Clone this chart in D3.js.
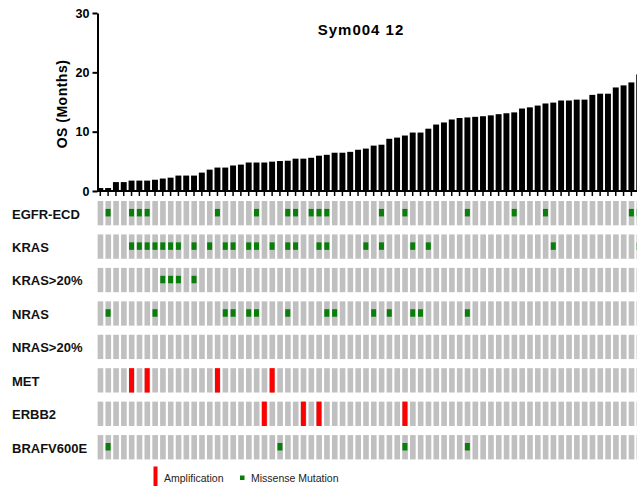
<!DOCTYPE html>
<html>
<head>
<meta charset="utf-8">
<script src="https://cdn.jsdelivr.net/npm/d3@7"></script>
<style>
  html, body { margin: 0; padding: 0; background: #fff; overflow: hidden; }
  svg { display: block; }
  text { font-family: "Liberation Sans", Arial, sans-serif; }
</style>
</head>
<body>
<svg id="chart" width="637" height="487"></svg>
<script>
// ---------------- DATA ----------------
const chartTitle = "Sym004 12";
const yAxisLabel = "OS (Months)";
const yTicks = [0, 10, 20, 30];

// overall survival per patient (months), sorted ascending
const osMonths = [0.5, 0.5, 1.5, 1.5, 1.75, 1.75, 1.75, 1.9, 2.1, 2.25,
  2.6, 2.6, 2.6, 3.1, 3.6, 3.95, 3.95, 4.3, 4.45, 4.8,
  4.8, 4.8, 4.95, 5.05, 5.1, 5.45, 5.45, 5.6, 5.95, 6.1,
  6.45, 6.45, 6.6, 6.95, 7.15, 7.65, 7.8, 8.8, 9.0, 9.35,
  9.85, 9.85, 10.5, 11.2, 11.55, 12.05, 12.3, 12.4, 12.5, 12.6,
  12.75, 12.95, 13.1, 13.25, 13.9, 14.1, 14.4, 14.75, 14.9, 15.25,
  15.25, 15.4, 15.4, 16.2, 16.4, 16.4, 17.45, 17.8, 18.3, 19.65];

const patients = osMonths.map((d, i) => "Pt" + (i + 1));

const geneRows = ["EGFR-ECD", "KRAS", "KRAS>20%", "NRAS", "NRAS>20%", "MET", "ERBB2", "BRAFV600E"];

// patient positions (index in sorted order) carrying each alteration
const egfrEcdMissense = [1, 4, 5, 6, 15, 20, 24, 25, 27, 28, 29, 36, 39, 47, 53, 57, 68, 69];
const krasMissense = [4, 5, 6, 7, 8, 9, 10, 12, 14, 16, 17, 19, 20, 22, 24, 25, 28, 29, 34, 36, 40, 42, 58, 69];
const krasOver20Missense = [8, 9, 10, 12];
const nrasMissense = [1, 7, 16, 17, 19, 20, 24, 29, 30, 35, 37, 40, 41, 47];
const nrasOver20Missense = [];
const metAmplification = [4, 6, 15, 22];
const erbb2Amplification = [21, 26, 28, 39];
const brafV600EMissense = [1, 23, 39, 47];

const legendItems = ["Amplification", "Missense Mutation"];

// ---------------- BUILD ----------------
const alterations = [
  { gene: "EGFR-ECD", type: "miss", idx: egfrEcdMissense },
  { gene: "KRAS", type: "miss", idx: krasMissense },
  { gene: "KRAS>20%", type: "miss", idx: krasOver20Missense },
  { gene: "NRAS", type: "miss", idx: nrasMissense },
  { gene: "NRAS>20%", type: "miss", idx: nrasOver20Missense },
  { gene: "MET", type: "amp", idx: metAmplification },
  { gene: "ERBB2", type: "amp", idx: erbb2Amplification },
  { gene: "BRAFV600E", type: "miss", idx: brafV600EMissense }
];
const events = [];
alterations.forEach(a => a.idx.forEach(i => events.push({ gene: a.gene, type: a.type, patient: patients[i] })));

const svg = d3.select("#chart");
const N = patients.length;
const step = 7.81;
const x = d3.scaleBand()
  .domain(patients)
  .range([96.4, 96.4 + step * N])
  .paddingInner(0.24)
  .paddingOuter(0.12);

const y = d3.scaleLinear().domain([0, 30]).range([191, 13]);

const rowScale = d3.scaleBand()
  .domain(geneRows)
  .range([201, 201 + 32.3 * geneRows.length])
  .paddingInner(1 - 23.5 / 32.3)
  .paddingOuter(0);

const black = "#000";
const green = "#0a7d0a";
const red = "#ff0000";
const grey = "#c0c0c0";

// bars
svg.append("g").selectAll("rect")
  .data(osMonths)
  .join("rect")
  .attr("x", (d, i) => x(patients[i]))
  .attr("width", x.bandwidth())
  .attr("y", d => y(d))
  .attr("height", d => y(0) - y(d))
  .attr("fill", black);

// x baseline with per-bar ticks
const xAxis = d3.axisBottom(x).tickSize(5).tickFormat("").tickSizeOuter(0);
const gx = svg.append("g").attr("transform", `translate(0,${y(0)})`).call(xAxis);
gx.select(".domain").attr("stroke", black).attr("stroke-width", 2)
  .attr("d", `M97,0H${96.4 + step * N + 10}`);
gx.selectAll(".tick line").attr("stroke", black).attr("stroke-width", 1.5);

// y axis
const yAxis = d3.axisLeft(y).tickValues(yTicks).tickSize(5).tickSizeOuter(0).tickPadding(3);
const gy = svg.append("g").attr("transform", "translate(97.5,0)").call(yAxis);
gy.select(".domain").attr("stroke", black).attr("stroke-width", 2);
gy.selectAll(".tick line").attr("stroke", black).attr("stroke-width", 2);
gy.selectAll(".tick text")
  .attr("font-family", "'Liberation Sans', Arial, sans-serif")
  .attr("font-size", 12.5)
  .attr("font-weight", "bold")
  .attr("fill", black);

// y label
svg.append("text")
  .attr("transform", `translate(67,${(y(0) + y(30)) / 2 + 2}) rotate(-90)`)
  .attr("text-anchor", "middle")
  .attr("font-size", 14)
  .attr("font-weight", "bold")
  .attr("letter-spacing", 0.5)
  .attr("fill", black)
  .text(yAxisLabel);

// title
svg.append("text")
  .attr("x", 361)
  .attr("y", 35)
  .attr("text-anchor", "middle")
  .attr("font-size", 15)
  .attr("font-weight", "bold")
  .attr("letter-spacing", 1)
  .attr("fill", black)
  .text(chartTitle);

// grid of grey cells
const cells = [];
geneRows.forEach(g => patients.forEach(p => cells.push({ g, p })));
svg.append("g").selectAll("rect")
  .data(cells)
  .join("rect")
  .attr("x", d => x(d.p) + 0.3)
  .attr("width", x.bandwidth() - 0.3)
  .attr("y", d => rowScale(d.g))
  .attr("height", rowScale.bandwidth())
  .attr("fill", grey);

// alterations
const gw = 5, gh = 7.5;
svg.append("g").selectAll("rect")
  .data(events)
  .join("rect")
  .attr("x", d => x(d.patient) + (x.bandwidth() - gw) / 2)
  .attr("width", gw)
  .attr("y", d => d.type === "amp" ? rowScale(d.gene) : rowScale(d.gene) + (rowScale.bandwidth() - gh) / 2 - 0.5)
  .attr("height", d => d.type === "amp" ? rowScale.bandwidth() : gh)
  .attr("fill", d => d.type === "amp" ? red : green);

// row labels
svg.append("g").selectAll("text")
  .data(geneRows)
  .join("text")
  .attr("x", 12)
  .attr("y", d => rowScale(d) + rowScale.bandwidth() / 2 + 2)
  .attr("dominant-baseline", "middle")
  .attr("font-size", 13)
  .attr("font-weight", "bold")
  .attr("fill", "#111")
  .text(d => d);

// legend
const lg = svg.append("g");
lg.append("rect").attr("x", 153.5).attr("y", 466.5).attr("width", 4).attr("height", 19.5).attr("fill", red);
lg.append("text").attr("x", 164).attr("y", 479).attr("dominant-baseline", "middle")
  .attr("font-size", 10.5).attr("fill", "#222").text(legendItems[0]);
lg.append("rect").attr("x", 240).attr("y", 475.5).attr("width", 4.5).attr("height", 4.5).attr("fill", green);
lg.append("text").attr("x", 251).attr("y", 479).attr("dominant-baseline", "middle")
  .attr("font-size", 10.5).attr("fill", "#222").text(legendItems[1]);
</script>
</body>
</html>
